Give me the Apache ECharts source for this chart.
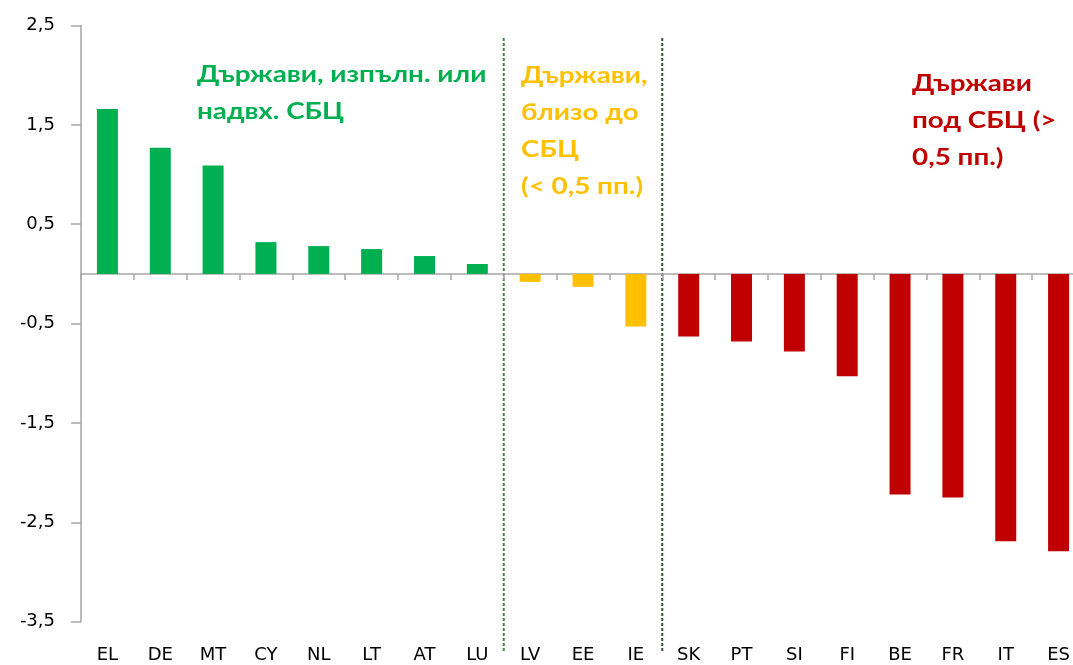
<!DOCTYPE html>
<html>
<head>
<meta charset="utf-8">
<script src="https://cdn.jsdelivr.net/npm/echarts@6/dist/echarts.min.js"></script>
<style>
  html, body { margin: 0; padding: 0; background: #fff; }
  #chart { width: 1073px; height: 665px; }
</style>
</head>
<body>
<div id="chart"></div>
<script>
// ---- data ----
const greenCats  = ['EL', 'DE', 'MT', 'CY', 'NL', 'LT', 'AT', 'LU'];
const greenVals  = [1.66, 1.27, 1.09, 0.32, 0.28, 0.25, 0.18, 0.10];
const yellowCats = ['LV', 'EE', 'IE'];
const yellowVals = [-0.08, -0.13, -0.53];
const redCats    = ['SK', 'PT', 'SI', 'FI', 'BE', 'FR', 'IT', 'ES'];
const redVals    = [-0.63, -0.68, -0.78, -1.03, -2.22, -2.25, -2.69, -2.79];
const yTicks     = [-3.5, -2.5, -1.5, -0.5, 0.5, 1.5, 2.5];
const greenNote  = 'Държави, изпълн. или\nнадвх. СБЦ';
const yellowNote = 'Държави,\nблизо до\nСБЦ\n(< 0,5 пп.)';
const redNote    = 'Държави\nпод СБЦ (>\n0,5 пп.)';

// ---- style ----
const GREEN = '#00b050', YELLOW = '#ffc000', RED = '#c00000';
const LABEL_FONT = 'DejaVu Sans';
const NOTE_FONT = 'Lato';

const categories = greenCats.concat(yellowCats, redCats);
const barData = []
  .concat(greenVals.map(v => ({ value: v, itemStyle: { color: GREEN } })))
  .concat(yellowVals.map(v => ({ value: v, itemStyle: { color: YELLOW } })))
  .concat(redVals.map(v => ({ value: v, itemStyle: { color: RED } })));

const chart = echarts.init(document.getElementById('chart'), null, { renderer: 'canvas' });

const option = {
  animation: false,
  backgroundColor: '#fff',
  grid: { left: 81, width: 1004, top: 25.5, bottom: 43.3, containLabel: false, outerBoundsMode: 'none' },
  xAxis: [
    {
      type: 'category',
      data: categories,
      position: 'bottom',
      axisLine: { onZero: true, lineStyle: { color: '#a6a6a6', width: 1.5 } },
      axisTick: { show: true, length: 6, alignWithLabel: false, lineStyle: { color: '#a6a6a6', width: 1.5 } },
      axisLabel: { show: false },
      splitLine: { show: false }
    },
    {
      type: 'category',
      data: categories,
      position: 'bottom',
      axisLine: { show: false, onZero: false },
      axisTick: { show: false },
      axisLabel: { show: true, margin: 25, color: '#000', fontFamily: LABEL_FONT, fontSize: 18 },
      splitLine: { show: false }
    }
  ],
  yAxis: {
    type: 'value',
    min: -3.5,
    max: 2.5,
    axisLine: { show: true, lineStyle: { color: '#a6a6a6', width: 1.5 } },
    axisTick: { show: true, length: 10, inside: false, customValues: yTicks, lineStyle: { color: '#a6a6a6', width: 1.5 } },
    axisLabel: {
      customValues: yTicks,
      margin: 26,
      color: '#000',
      fontFamily: LABEL_FONT,
      fontSize: 18,
      formatter: v => String(v).replace('.', ',')
    },
    splitLine: { show: false }
  },
  series: [{
    type: 'bar',
    xAxisIndex: 0,
    data: barData,
    barWidth: 21
  }]
};
chart.setOption(option);

// divider lines between groups (at category boundaries), plus notes
function boundaryX(i) {
  const a = chart.convertToPixel({ xAxisIndex: 0 }, categories[i - 1]);
  const b = chart.convertToPixel({ xAxisIndex: 0 }, categories[i]);
  return (a + b) / 2;
}
const b1 = boundaryX(greenCats.length);
const b2 = boundaryX(greenCats.length + yellowCats.length);
const note = (text, color, x, y) => ({
  type: 'text', x: x, y: y, scaleX: 1.21,
  style: {
    x: 0, y: 0, text: text, fill: color, font: 'bold 23px ' + NOTE_FONT, lineHeight: 37,
    textAlign: 'left', textVerticalAlign: 'top'
  }
});
chart.setOption({
  graphic: [
    { type: 'line', shape: { x1: b1, y1: 38, x2: b1, y2: 653 },
      style: { stroke: '#4f7f4f', lineWidth: 2, lineDash: [3, 2] } },
    { type: 'line', shape: { x1: b2, y1: 38, x2: b2, y2: 653 },
      style: { stroke: '#2e5a2e', lineWidth: 2, lineDash: [3, 2] } },
    note(greenNote, GREEN, 197, 56),
    note(yellowNote, YELLOW, 521, 57),
    note(redNote, RED, 912, 65)
  ]
});
</script>
</body>
</html>
